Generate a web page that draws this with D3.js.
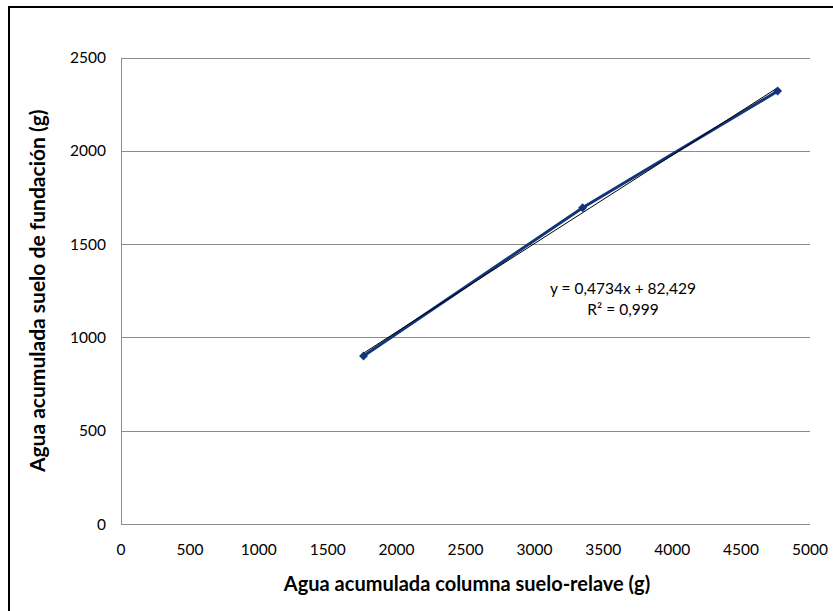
<!DOCTYPE html>
<html>
<head>
<meta charset="utf-8">
<script src="https://cdn.jsdelivr.net/npm/d3@7"></script>
<style>
  html, body { margin: 0; padding: 0; background: #fff; }
  svg { display: block; }
  text { font-family: Lato, "Open Sans", sans-serif; fill: #000; }
</style>
</head>
<body>
<svg id="chart" width="833" height="611"></svg>
<script>
// Data
const xValues = [1760, 3350, 4765];
const yValues = [900, 1695, 2320];
const xTicks = [0, 500, 1000, 1500, 2000, 2500, 3000, 3500, 4000, 4500, 5000];
const yTicks = [0, 500, 1000, 1500, 2000, 2500];
const trendSlope = 0.4734;
const trendIntercept = 82.429;
const equationLines = ["y = 0,4734x + 82,429", "R\u00B2 = 0,999"];
const xTitle = "Agua acumulada columna suelo-relave (g)";
const yTitle = "Agua acumulada suelo de fundación (g)";

const svg = d3.select("#chart");
const W = 833, H = 611;
const m = { left: 121, right: 810, top: 57.5, bottom: 524 };

// outer border (only top/left visible, chart is cropped)
svg.append("rect")
  .attr("x", 9).attr("y", 7)
  .attr("width", W + 20).attr("height", H + 20)
  .attr("fill", "#fff").attr("stroke", "#000").attr("stroke-width", 2);

const x = d3.scaleLinear().domain([0, 5000]).range([m.left, m.right]);
const y = d3.scaleLinear().domain([0, 2500]).range([m.bottom, m.top]);

// gridlines
svg.append("g").selectAll("line")
  .data(yTicks.filter(d => d > 0))
  .join("line")
  .attr("x1", m.left).attr("x2", m.right)
  .attr("y1", d => Math.round(y(d)) + 0.5).attr("y2", d => Math.round(y(d)) + 0.5)
  .attr("stroke", "#8c8c8c").attr("stroke-width", 1);

// axes lines
svg.append("line")
  .attr("x1", m.left + 0.5).attr("x2", m.left + 0.5)
  .attr("y1", m.top).attr("y2", m.bottom)
  .attr("stroke", "#8c8c8c").attr("stroke-width", 1);
svg.append("line")
  .attr("x1", m.left).attr("x2", m.right)
  .attr("y1", Math.round(m.bottom) + 0.5).attr("y2", Math.round(m.bottom) + 0.5)
  .attr("stroke", "#8c8c8c").attr("stroke-width", 1);

// y tick labels
svg.append("g").selectAll("text")
  .data(yTicks)
  .join("text")
  .attr("x", 106)
  .attr("y", d => y(d) + 5.5)
  .attr("text-anchor", "end")
  .attr("font-size", 15.5)
  .text(d => d);

// x tick labels
svg.append("g").selectAll("text")
  .data(xTicks)
  .join("text")
  .attr("x", d => x(d))
  .attr("y", 555)
  .attr("text-anchor", "middle")
  .attr("font-size", 15.5)
  .text(d => d);

// axis titles
svg.append("text")
  .attr("x", 467).attr("y", 591)
  .attr("text-anchor", "middle")
  .attr("font-size", 20).attr("font-weight", "bold")
  .text(xTitle);
svg.append("text")
  .attr("transform", `translate(45, ${(m.top + m.bottom) / 2}) rotate(-90)`)
  .attr("text-anchor", "middle")
  .attr("font-size", 21).attr("font-weight", "bold")
  .text(yTitle);

// data line
const pts = xValues.map((v, i) => [v, yValues[i]]);
svg.append("path")
  .datum(pts)
  .attr("d", d3.line().x(d => x(d[0])).y(d => y(d[1])))
  .attr("fill", "none")
  .attr("stroke", "#10357a")
  .attr("stroke-width", 3);

// trendline
const tx = d3.extent(xValues);
svg.append("line")
  .attr("x1", x(tx[0])).attr("y1", y(trendSlope * tx[0] + trendIntercept))
  .attr("x2", x(tx[1])).attr("y2", y(trendSlope * tx[1] + trendIntercept))
  .attr("stroke", "#000").attr("stroke-width", 1);

// markers (square rotated 45°, Excel-style diamond)
svg.append("g").selectAll("path")
  .data(pts)
  .join("path")
  .attr("transform", d => `translate(${x(d[0])},${y(d[1])}) rotate(45)`)
  .attr("d", d3.symbol().type(d3.symbolSquare).size(40))
  .attr("fill", "#10357a");

// equation
svg.append("g").selectAll("text")
  .data(equationLines)
  .join("text")
  .attr("x", 623)
  .attr("y", (d, i) => 293.5 + i * 21)
  .attr("text-anchor", "middle")
  .attr("font-size", 15.5)
  .text(d => d);
</script>
</body>
</html>
